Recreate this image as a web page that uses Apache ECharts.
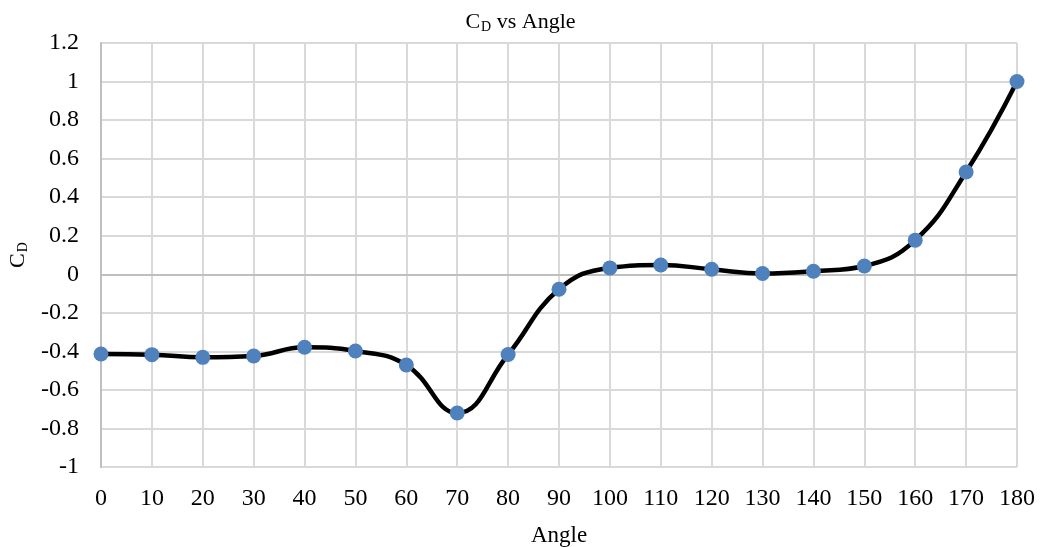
<!DOCTYPE html>
<html>
<head>
<meta charset="utf-8">
<script src="https://cdn.jsdelivr.net/npm/echarts@6/dist/echarts.min.js"></script>
<style>html,body{margin:0;padding:0;background:#fff}#c{width:1041px;height:547px}</style>
</head>
<body>
<div id="c"></div>
<script>
const angles = [0,10,20,30,40,50,60,70,80,90,100,110,120,130,140,150,160,170,180];
const cd = [-0.414,-0.417,-0.431,-0.424,-0.379,-0.398,-0.471,-0.720,-0.416,-0.078,0.033,0.048,0.026,0.004,0.016,0.043,0.177,0.531,1.0];
const yTicks = {min:-1, max:1.2, interval:0.2};
const xTicks = {min:0, max:180, interval:10};

const FONT = 'Liberation Serif';
const rich = {
  a:{fontFamily:FONT,fontSize:22,fontWeight:'normal',color:'#000',lineHeight:26,verticalAlign:'bottom'},
  b:{fontFamily:FONT,fontSize:14,fontWeight:'normal',color:'#000',lineHeight:14,padding:[0,0,-1,1],verticalAlign:'bottom'}
};
const chart = echarts.init(document.getElementById('c'));
chart.setOption({
  animation:false,
  backgroundColor:'#fff',
  title:{
    text:'{a|C}{b|D}{a| vs Angle}',
    left:'center', top:2,
    textStyle:{fontWeight:'normal', rich:rich}
  },
  grid:{left:101,right:24,top:43,bottom:80,containLabel:false,outerBoundsMode:'none'},
  xAxis:{
    type:'value', min:xTicks.min, max:xTicks.max, interval:xTicks.interval,
    name:'Angle', nameLocation:'middle', nameGap:57,
    nameTextStyle:{fontFamily:FONT,fontSize:23,color:'#000'},
    axisLine:{show:false}, axisTick:{show:false},
    axisLabel:{fontFamily:FONT,fontSize:24,color:'#000',margin:20},
    splitLine:{show:true,lineStyle:{color:'#d9d9d9',width:2}}
  },
  yAxis:{
    type:'value', min:yTicks.min, max:yTicks.max, interval:yTicks.interval,
    name:'{a|C}{b|D}', nameLocation:'middle', nameRotate:90, nameGap:72,
    nameTextStyle:{fontWeight:'normal', rich:rich},
    axisLine:{show:true,lineStyle:{color:'#bfbfbf',width:2}}, axisTick:{show:false},
    axisLabel:{fontFamily:FONT,fontSize:24,color:'#000',margin:22,
      formatter:function(v){return String(Math.round(v*10)/10);}},
    splitLine:{show:true,lineStyle:{color:'#d9d9d9',width:2}}
  },
  series:[{
    type:'line',
    data:angles.map((a,i)=>[a,cd[i]]),
    smooth:0.45,
    symbol:'circle', symbolSize:15,
    lineStyle:{color:'#000',width:4.5},
    itemStyle:{color:'#4f81bd'},
    z:3,
    markLine:{
      silent:true, symbol:['none','none'], label:{show:false},
      lineStyle:{color:'#bfbfbf',width:2,type:'solid'},
      data:[{yAxis:0}],
      z:1
    }
  }]
});
</script>
</body>
</html>
